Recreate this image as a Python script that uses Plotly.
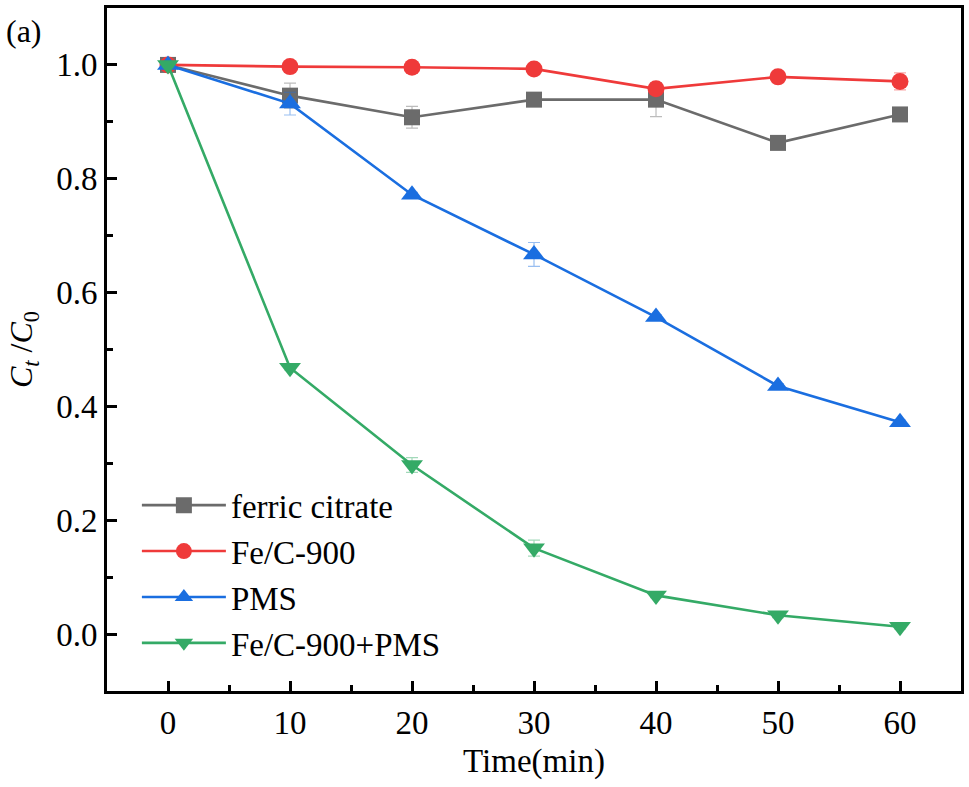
"""Ct/C0 versus time for the four systems, panel (a)"""
import plotly.graph_objects as go

# data
time_min = [0, 10, 20, 30, 40, 50, 60]

ferric_citrate = [1.000, 0.946, 0.908, 0.939, 0.939, 0.863, 0.913]
ferric_citrate_err = [0.004, 0.022, 0.019, 0.004, 0.030, 0.010, 0.004]

fec_900 = [1.000, 0.997, 0.996, 0.993, 0.958, 0.979, 0.971]
fec_900_err = [0.003, 0.003, 0.003, 0.003, 0.008, 0.003, 0.015]

pms = [1.000, 0.932, 0.772, 0.667, 0.557, 0.436, 0.372]
pms_err = [0.004, 0.020, 0.004, 0.021, 0.004, 0.004, 0.004]

fec_900_pms = [1.000, 0.468, 0.297, 0.151, 0.068, 0.033, 0.013]
fec_900_pms_err = [0.004, 0.004, 0.013, 0.014, 0.004, 0.004, 0.004]

series = [
    ("ferric citrate", ferric_citrate, ferric_citrate_err, "#6b6b6b", "rgba(107,107,107,0.45)", "square", 16),
    ("Fe/C-900", fec_900, fec_900_err, "#ef3a3a", "rgba(239,58,58,0.45)", "circle", 17),
    ("PMS", pms, pms_err, "#1a6ee0", "rgba(26,110,224,0.45)", "triangle-up", 19),
    ("Fe/C-900+PMS", fec_900_pms, fec_900_pms_err, "#34aa66", "rgba(52,170,102,0.45)", "triangle-down", 19),
]

FONT = "Liberation Serif"

fig = go.Figure()
for name, y, err, col, errcol, sym, size in series:
    fig.add_trace(go.Scatter(
        x=time_min, y=y, name=name, mode="lines+markers",
        line=dict(color=col, width=2.6),
        marker=dict(symbol=sym, size=size, color=col),
        error_y=dict(type="data", array=err, visible=True,
                     color=errcol, thickness=1.2, width=6),
    ))

fig.update_layout(
    width=969, height=787,
    margin=dict(l=107, r=6, t=5, b=96),
    paper_bgcolor="white", plot_bgcolor="white",
    font=dict(family=FONT, size=33, color="black"),
    showlegend=True,
    legend=dict(x=0.035, y=0.313, xanchor="left", yanchor="top",
                bgcolor="rgba(0,0,0,0)", font=dict(family=FONT, size=33),
                itemwidth=84, tracegroupgap=0),
    annotations=[dict(text="(a)", xref="paper", yref="paper",
                      x=-0.121, y=0.995, xanchor="left", yanchor="top",
                      showarrow=False, font=dict(family=FONT, size=32))],
)

fig.update_xaxes(
    range=[-5, 65], tick0=0, dtick=10,
    showline=True, linewidth=3, linecolor="black", mirror=True,
    ticks="inside", ticklen=10, tickwidth=3, tickcolor="black",
    minor=dict(dtick=5, ticks="inside", ticklen=6, tickwidth=3, tickcolor="black"),
    showgrid=False, zeroline=False,
    tickfont=dict(family=FONT, size=33),
    title=dict(text="Time(min)", font=dict(family=FONT, size=33), standoff=10),
)
fig.update_yaxes(
    range=[-0.1, 1.1], tick0=0, dtick=0.2, tickformat=".1f",
    showline=True, linewidth=3, linecolor="black", mirror=True,
    ticks="inside", ticklen=10, tickwidth=3, tickcolor="black",
    minor=dict(dtick=0.1, ticks="inside", ticklen=6, tickwidth=3, tickcolor="black"),
    showgrid=False, zeroline=False,
    tickfont=dict(family=FONT, size=33),
    title=dict(text="<i>C</i><sub><i>t</i></sub> /<i>C</i><sub>0</sub>",
               font=dict(family=FONT, size=32), standoff=14),
)

fig.write_html("out.html", config={"displayModeBar": False},
               post_script="document.body.style.margin='0';")
